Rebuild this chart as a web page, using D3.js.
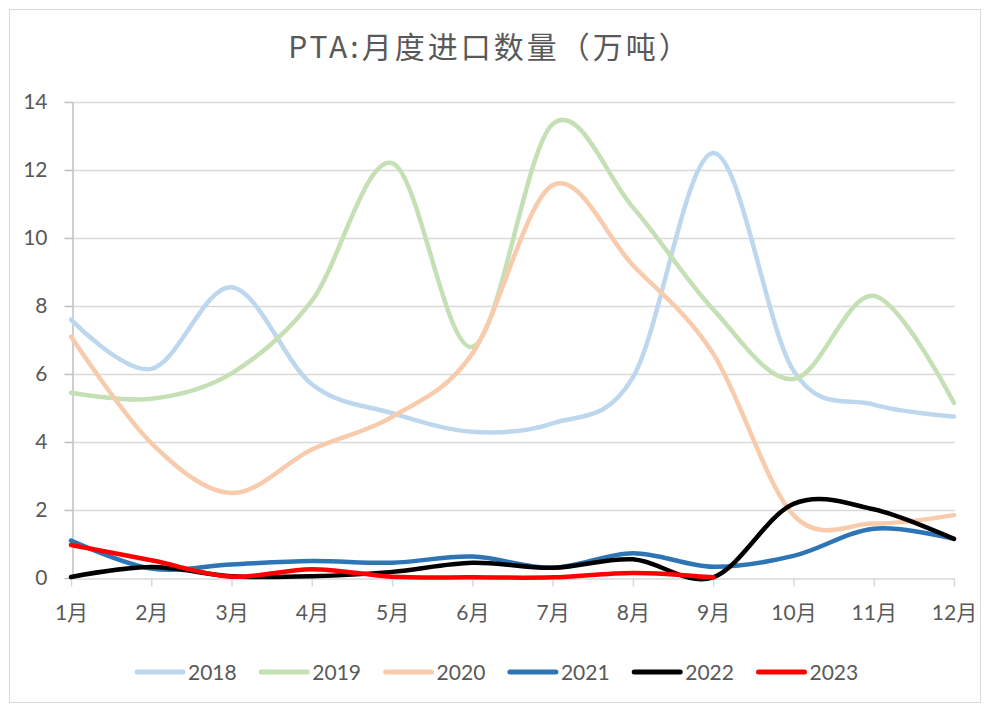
<!DOCTYPE html>
<html><head><meta charset="utf-8">
<script src="https://cdn.jsdelivr.net/npm/d3@7"></script>
<style>body{margin:0;background:#fff;}svg{display:block;}</style>
</head><body>
<script>
const months = ["1月","2月","3月","4月","5月","6月","7月","8月","9月","10月","11月","12月"];
const yTicks = [0,2,4,6,8,10,12,14];
const seriesNames = ["2018","2019","2020","2021","2022","2023"];
const v2018 = [7.6,6.15,8.55,5.7,4.85,4.3,4.55,5.9,12.5,6.1,5.1,4.75];
const v2019 = [5.45,5.27,6.02,8.15,12.2,6.8,13.35,10.9,7.9,5.85,8.3,5.15];
const v2020 = [7.1,3.97,2.5,3.78,4.74,6.6,11.55,9.2,6.6,1.85,1.6,1.85];
const v2021 = [1.1,0.28,0.4,0.5,0.45,0.63,0.3,0.73,0.33,0.65,1.45,1.15];
const v2022 = [0.03,0.32,0.05,0.05,0.18,0.45,0.3,0.55,0.02,2.18,2.02,1.15];
const v2023 = [0.97,0.52,0.04,0.26,0.04,0.02,0.02,0.15,0.02];
const seriesValues = [v2018,v2019,v2020,v2021,v2022,v2023];
const colors = ["#BDD7EE","#C5E0B4","#F8CBAD","#2E75B6","#000000","#FF0000"];

const W=984,H=706;
const svg=d3.select("body").append("svg").attr("width",W).attr("height",H);
svg.append("rect").attr("x",9.5).attr("y",9.5).attr("width",971).attr("height",693)
  .attr("fill","#fff").attr("stroke","#D9D9D9").attr("stroke-width",1);

const x=d3.scalePoint().domain(months).range([71,954]);
const y=d3.scaleLinear().domain([0,14]).range([578,102]);

// gridlines
svg.append("g").selectAll("line").data(yTicks.filter(d=>d>0)).join("line")
  .attr("x1",72).attr("x2",955).attr("y1",d=>y(d)+0.5).attr("y2",d=>y(d)+0.5)
  .attr("stroke","#D9D9D9").attr("stroke-width",1.5);

// y axis
const ya=svg.append("g").attr("transform","translate(72.5,0)")
  .call(d3.axisLeft(y).tickValues(yTicks).tickSize(8).tickPadding(17).tickSizeOuter(0));
ya.select(".domain").attr("stroke","#BFBFBF").attr("stroke-width",1.5);
ya.selectAll(".tick line").attr("stroke","#BFBFBF").attr("stroke-width",1.5);
ya.selectAll("text").attr("fill","#595959").attr("font-family","Lato, 'Open Sans', sans-serif").attr("font-size",21);

// x axis
const xa=svg.append("g").attr("transform","translate(0,578.5)")
  .call(d3.axisBottom(x).tickSize(8).tickPadding(19).tickSizeOuter(0));
xa.select(".domain").attr("stroke","#D9D9D9").attr("stroke-width",1.5);
xa.selectAll(".tick line").attr("stroke","#D9D9D9").attr("stroke-width",1.5);
xa.selectAll("text").attr("fill","#595959").attr("font-family","Lato, 'Noto Sans CJK SC', sans-serif").attr("font-size",21);

// lines
const line=d3.line().x((d,i)=>x(months[i])).y(d=>y(d)).curve(d3.curveCatmullRom.alpha(0));
svg.append("g").selectAll("path").data(seriesValues).join("path")
  .attr("d",d=>line(d)).attr("fill","none")
  .attr("stroke",(d,i)=>colors[i]).attr("stroke-width",4.5)
  .attr("stroke-linejoin","round").attr("stroke-linecap","round");

// title
svg.append("text").attr("x",490).attr("y",58).attr("text-anchor","middle")
  .attr("font-family","'Noto Sans CJK SC', sans-serif").attr("font-size",30)
  .attr("letter-spacing",3).attr("fill","#595959")
  .text("PTA:月度进口数量（万吨）");

// legend
const lg=svg.append("g").selectAll("g").data(seriesNames).join("g")
  .attr("transform",(d,i)=>`translate(${137+i*124.3},672)`);
lg.append("line").attr("x1",0).attr("x2",46).attr("y1",0).attr("y2",0)
  .attr("stroke",(d,i)=>colors[i]).attr("stroke-width",5).attr("stroke-linecap","round");
lg.append("text").attr("x",51).attr("y",8).attr("fill","#595959")
  .attr("font-family","Lato, 'Open Sans', sans-serif").attr("font-size",21).text(d=>d);
</script>
</body></html>
